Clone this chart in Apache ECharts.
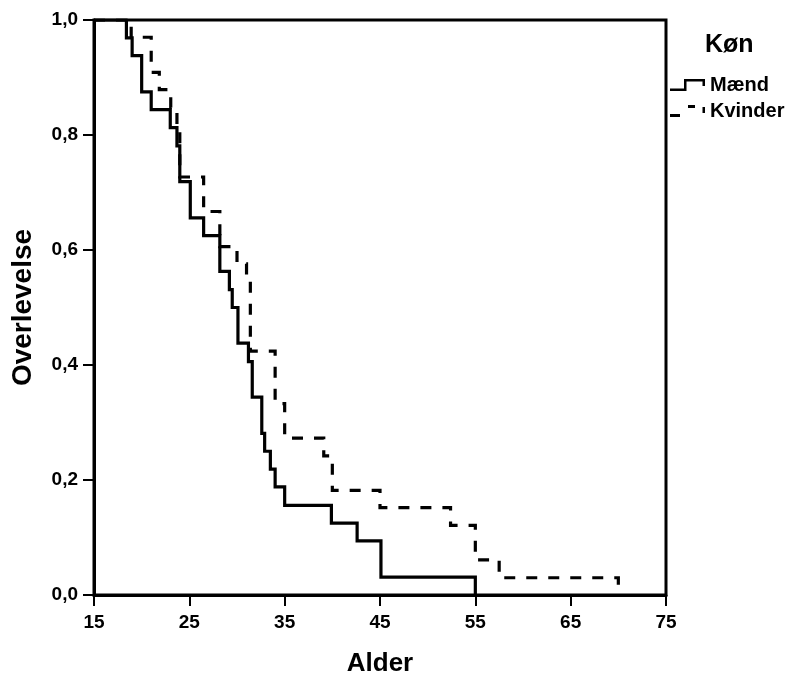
<!DOCTYPE html>
<html>
<head>
<meta charset="utf-8">
<script src="https://cdn.jsdelivr.net/npm/echarts@6/dist/echarts.min.js"></script>
<style>html,body{margin:0;padding:0;background:#fff}#c{width:794px;height:675px}</style>
</head>
<body>
<div id="c"></div>
<script>
// Mænd (solid) Kaplan-Meier steps: age at which survival drops, survival after drop
var maleAges = [15, 18.4, 19.0, 20.0, 21.0, 23.0, 23.7, 24.0, 25.1, 26.5, 28.2, 29.2, 29.5, 30.1, 31.2, 31.6, 32.6, 32.9, 33.5, 34.0, 35.0, 39.9, 42.6, 45.1, 55.0];
var maleSurv = [1, 0.969, 0.938, 0.875, 0.844, 0.813, 0.781, 0.719, 0.656, 0.625, 0.563, 0.531, 0.5, 0.438, 0.406, 0.344, 0.281, 0.25, 0.219, 0.188, 0.156, 0.125, 0.094, 0.031, 0];
// Kvinder (dashed)
var femaleAges = [15, 18.9, 21.0, 21.85, 23.05, 23.7, 24.0, 26.5, 28.2, 30.0, 31.0, 31.4, 34.0, 35.0, 39.1, 40.0, 45.0, 52.4, 55.0, 57.5, 70.0];
var femaleSurv = [1, 0.970, 0.909, 0.879, 0.848, 0.818, 0.727, 0.667, 0.606, 0.576, 0.545, 0.424, 0.333, 0.273, 0.242, 0.182, 0.152, 0.121, 0.061, 0.030, 0];
var seriesNames = ['Mænd', 'Kvinder'];
var legendTitle = 'Køn';
var xName = 'Alder';
var yName = 'Overlevelse';

function pairs(xs, ys) { return xs.map(function (x, i) { return [x, ys[i]]; }); }

var FONT = '"Liberation Sans", Arial, sans-serif';
var solidIcon = 'path://M0,9.5L16,9.5L16,12L0,12Z M14,0L16.5,0L16.5,12L14,12Z M14,0L35,0L35,2.5L14,2.5Z M32.5,0L35,0L35,7L32.5,7Z';
var dashIcon = 'path://M0,9L10,9L10,12L0,12Z M18,0L25,0L25,3L18,3Z M32.5,2L35,2L35,8L32.5,8Z M0,0L0.01,0L0.01,0.01Z';

var chart = echarts.init(document.getElementById('c'), null, {renderer: 'canvas'});
chart.setOption({
  animation: false,
  backgroundColor: '#fff',
  title: {
    text: legendTitle, left: 705, top: 33, padding: 0,
    textStyle: {fontFamily: FONT, fontSize: 25, fontWeight: 'bold', color: '#000'}
  },
  legend: {
    orient: 'vertical', left: 670, top: 75, padding: 0, itemGap: 6,
    itemWidth: 35, itemHeight: 12,
    itemStyle: {borderWidth: 0},
    textStyle: {fontFamily: FONT, fontSize: 20, fontWeight: 'bold', color: '#000', lineHeight: 20, padding: 0},
    data: [
      {name: seriesNames[0], icon: solidIcon},
      {name: seriesNames[1], icon: dashIcon}
    ]
  },
  grid: {left: 94, right: 128, top: 20, bottom: 80, show: true, borderColor: '#000', borderWidth: 3,
    backgroundColor: 'transparent', containLabel: false, outerBoundsMode: 'none'},
  xAxis: {
    type: 'value', min: 15, max: 75, interval: 10,
    name: xName, nameLocation: 'middle', nameGap: 56,
    nameTextStyle: {fontFamily: FONT, fontSize: 26, fontWeight: 'bold', color: '#000'},
    axisLine: {show: true, lineStyle: {color: '#000', width: 3}},
    axisTick: {show: true, length: 11, lineStyle: {color: '#000', width: 2}},
    axisLabel: {margin: 18, fontFamily: FONT, fontSize: 19, fontWeight: 'bold', color: '#000'},
    splitLine: {show: false}
  },
  yAxis: {
    type: 'value', min: 0, max: 1, interval: 0.2,
    name: yName, nameLocation: 'middle', nameGap: 57,
    nameTextStyle: {fontFamily: FONT, fontSize: 28, fontWeight: 'bold', color: '#000'},
    axisLine: {show: true, lineStyle: {color: '#000', width: 3}},
    axisTick: {show: true, length: 11, lineStyle: {color: '#000', width: 2}},
    axisLabel: {margin: 16, padding: [6, 0, 0, 0], fontFamily: FONT, fontSize: 19, fontWeight: 'bold', color: '#000',
      formatter: function (v) { return v.toFixed(1).replace('.', ','); }},
    splitLine: {show: false}
  },
  series: [
    {
      name: seriesNames[0], type: 'line', step: 'end', symbol: 'none',
      data: pairs(maleAges, maleSurv),
      itemStyle: {color: '#000'},
      lineStyle: {color: '#000', width: 3.2, type: 'solid', cap: 'butt', join: 'miter'}
    },
    {
      name: seriesNames[1], type: 'line', step: 'end', symbol: 'none',
      data: pairs(femaleAges, femaleSurv),
      itemStyle: {color: '#000'},
      lineStyle: {color: '#000', width: 3.2, type: [11, 11], cap: 'butt', join: 'miter'}
    }
  ]
});
</script>
</body>
</html>
